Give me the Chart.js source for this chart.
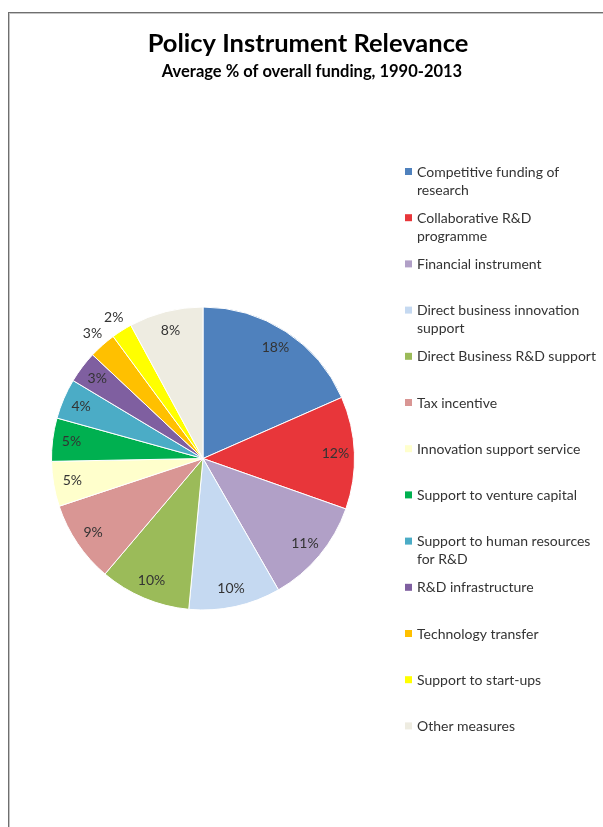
<!DOCTYPE html>
<html>
<head>
<meta charset="utf-8">
<script src="https://cdn.jsdelivr.net/npm/chart.js@4/dist/chart.umd.min.js"></script>
<style>
  html, body { margin: 0; padding: 0; background: #fff; overflow: hidden; }
  #frame {
    position: absolute; left: 8px; top: 12px; width: 700px; height: 900px;
    border-left: 1px solid #6f6f6f; border-top: 1px solid #6f6f6f;
    box-shadow: inset 1px 1px 0 #c4c4c4;
  }
  #pie { position: absolute; left: 0; top: 0; }
</style>
</head>
<body>
<div id="frame"></div>
<canvas id="pie" width="603" height="827"></canvas>
<script>
const title = 'Policy Instrument Relevance'
const subtitle = 'Average % of overall funding, 1990-2013'

// legend entries, already split the way the original wraps them
const instruments = [
  ['Competitive funding of', 'research'],
  ['Collaborative R&D', 'programme'],
  'Financial instrument',
  ['Direct business innovation', 'support'],
  'Direct Business R&D support',
  'Tax incentive',
  'Innovation support service',
  'Support to venture capital',
  ['Support to human resources', 'for R&D'],
  'R&D infrastructure',
  'Technology transfer',
  'Support to start-ups',
  'Other measures'
]

// average share of funding, %
const shares = [18.4, 12.0, 11.3, 9.8, 9.7, 8.7, 4.8, 4.6, 4.3, 3.4, 2.9, 2.2, 7.9]

const colors = [
  '#4f81bd', '#e8363a', '#b1a0c7', '#c5d9f1', '#9bbb59', '#d99694', '#ffffcc',
  '#00b050', '#4bacc6', '#7f5fa0', '#ffc000', '#ffff00', '#eeece1'
]

const textColor = '#333333'
const font = 'Lato, "Open Sans", sans-serif'

const extras = {
  id: 'extras',
  afterDatasetsDraw(chart) {
    const ctx = chart.ctx
    const meta = chart.getDatasetMeta(0)
    ctx.save()
    ctx.font = '14px ' + font
    ctx.fillStyle = textColor
    ctx.textAlign = 'center'
    ctx.textBaseline = 'middle'
    meta.data.forEach((arc, i) => {
      const {x, y, startAngle, endAngle, outerRadius} = arc.getProps(['x', 'y', 'startAngle', 'endAngle', 'outerRadius'], true)
      const mid = (startAngle + endAngle) / 2
      // tiny slices get their label outside the pie
      const r = shares[i] < 3 ? outerRadius + 15 : outerRadius * 0.875
      ctx.fillText(Math.round(shares[i]) + '%', x + Math.cos(mid) * r, y + Math.sin(mid) * r)
    })
    ctx.restore()
  },
  afterDraw(chart) {
    const ctx = chart.ctx
    ctx.save()
    ctx.fillStyle = '#000'
    ctx.textAlign = 'center'
    ctx.textBaseline = 'middle'
    ctx.font = 'bold 25.5px ' + font
    ctx.fillText(title, 308, 44)
    ctx.font = 'bold 16.5px ' + font
    ctx.fillText(subtitle, 312, 72)

    // legend
    ctx.textAlign = 'left'
    ctx.font = '14px ' + font
    const top = 172
    const step = 46.2
    instruments.forEach((label, i) => {
      const y = top + i * step
      ctx.fillStyle = colors[i]
      ctx.fillRect(405, y - 4, 7, 7)
      ctx.fillStyle = textColor
      const lines = Array.isArray(label) ? label : [label]
      lines.forEach((line, j) => ctx.fillText(line, 417, y + j * 18))
    })
    ctx.restore()
  }
}

new Chart(document.getElementById('pie'), {
  type: 'pie',
  data: {
    labels: instruments,
    datasets: [{
      data: shares,
      backgroundColor: colors,
      borderColor: '#ffffff',
      borderWidth: 1
    }]
  },
  options: {
    responsive: false,
    animation: false,
    layout: {
      padding: {left: 51, top: 306, right: 248, bottom: 216}
    },
    plugins: {
      legend: {display: false},
      tooltip: {enabled: false}
    }
  },
  plugins: [extras]
})
</script>
</body>
</html>
